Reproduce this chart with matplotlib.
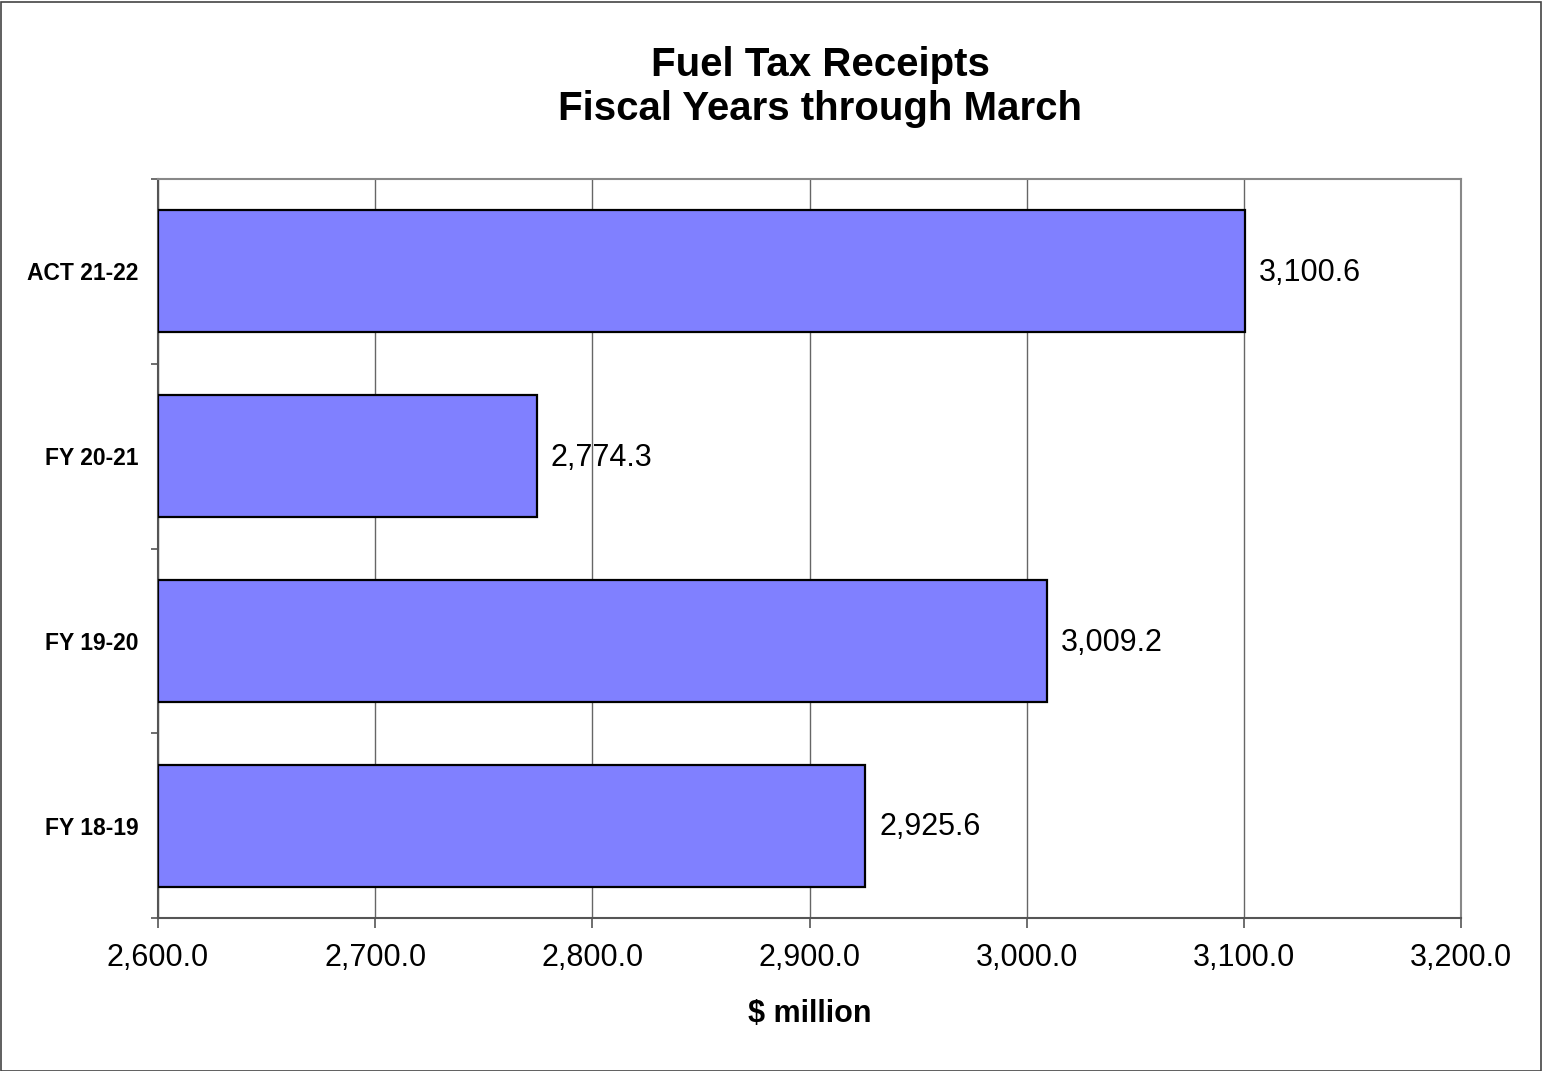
import matplotlib
matplotlib.use("Agg")
import matplotlib.pyplot as plt
from matplotlib.patches import Rectangle
from matplotlib.ticker import FuncFormatter, FixedLocator

plt.rcParams['font.family'] = ['Liberation Sans', 'DejaVu Sans']

categories = ["FY 18-19", "FY 19-20", "FY 20-21", "ACT 21-22"]
values = [2925.6, 3009.2, 2774.3, 3100.6]
x_ticks = [2600, 2700, 2800, 2900, 3000, 3100, 3200]

W, H = 1542, 1071
fig = plt.figure(figsize=(W / 100, H / 100), dpi=100)
ax = fig.add_axes([158 / W, (H - 918) / H, (1461 - 158) / W, (918 - 179) / H])

ypos = list(range(len(categories)))
base = x_ticks[0]
ax.barh(ypos, [v - base for v in values], left=base, height=0.66,
        color="#8080FF", edgecolor="black", linewidth=1.6, zorder=3)

for y, v in zip(ypos, values):
    ax.text(v + 6.5, y - 0.01, f"{v:,.1f}", va="center", ha="left", fontsize=22, zorder=4)

ax.set_xlim(x_ticks[0], x_ticks[-1])
ax.set_ylim(-0.5, len(categories) - 0.5)
ax.set_xticks(x_ticks)
ax.xaxis.set_major_formatter(FuncFormatter(lambda v, p: f"{v:,.1f}"))
ax.tick_params(axis="x", direction="out", length=7, width=1.2, color="#555555",
               labelsize=22, pad=11)
ax.grid(axis="x", color="#666666", linewidth=1.0, zorder=0)

ax.set_yticks(ypos)
ax.set_yticklabels(categories, fontsize=16.5, fontweight="bold")
ax.tick_params(axis="y", which="major", length=0, pad=14)
ax.yaxis.set_minor_locator(FixedLocator([-0.5, 0.5, 1.5, 2.5, 3.5]))
ax.tick_params(axis="y", which="minor", direction="out", length=5, width=1.2, color="#555555")

for s in ["left", "bottom"]:
    ax.spines[s].set_color("#555555")
    ax.spines[s].set_linewidth(1.5)
for s in ["top", "right"]:
    ax.spines[s].set_color("#888888")
    ax.spines[s].set_linewidth(1.5)

ax.set_xlabel("$ million", fontsize=22, fontweight="bold", labelpad=19)

fig.text(820 / W, 1 - 87 / H, "Fuel Tax Receipts\nFiscal Years through March",
         ha="center", va="center", fontsize=29, fontweight="bold", linespacing=1.2)

fig.patches.append(Rectangle((0.5 / W, 0.5 / H), 1 - 2 / W, 1 - 2 / H, transform=fig.transFigure,
                             fill=False, edgecolor="#444444", linewidth=1.2))

fig.savefig("out.png", dpi=100)
